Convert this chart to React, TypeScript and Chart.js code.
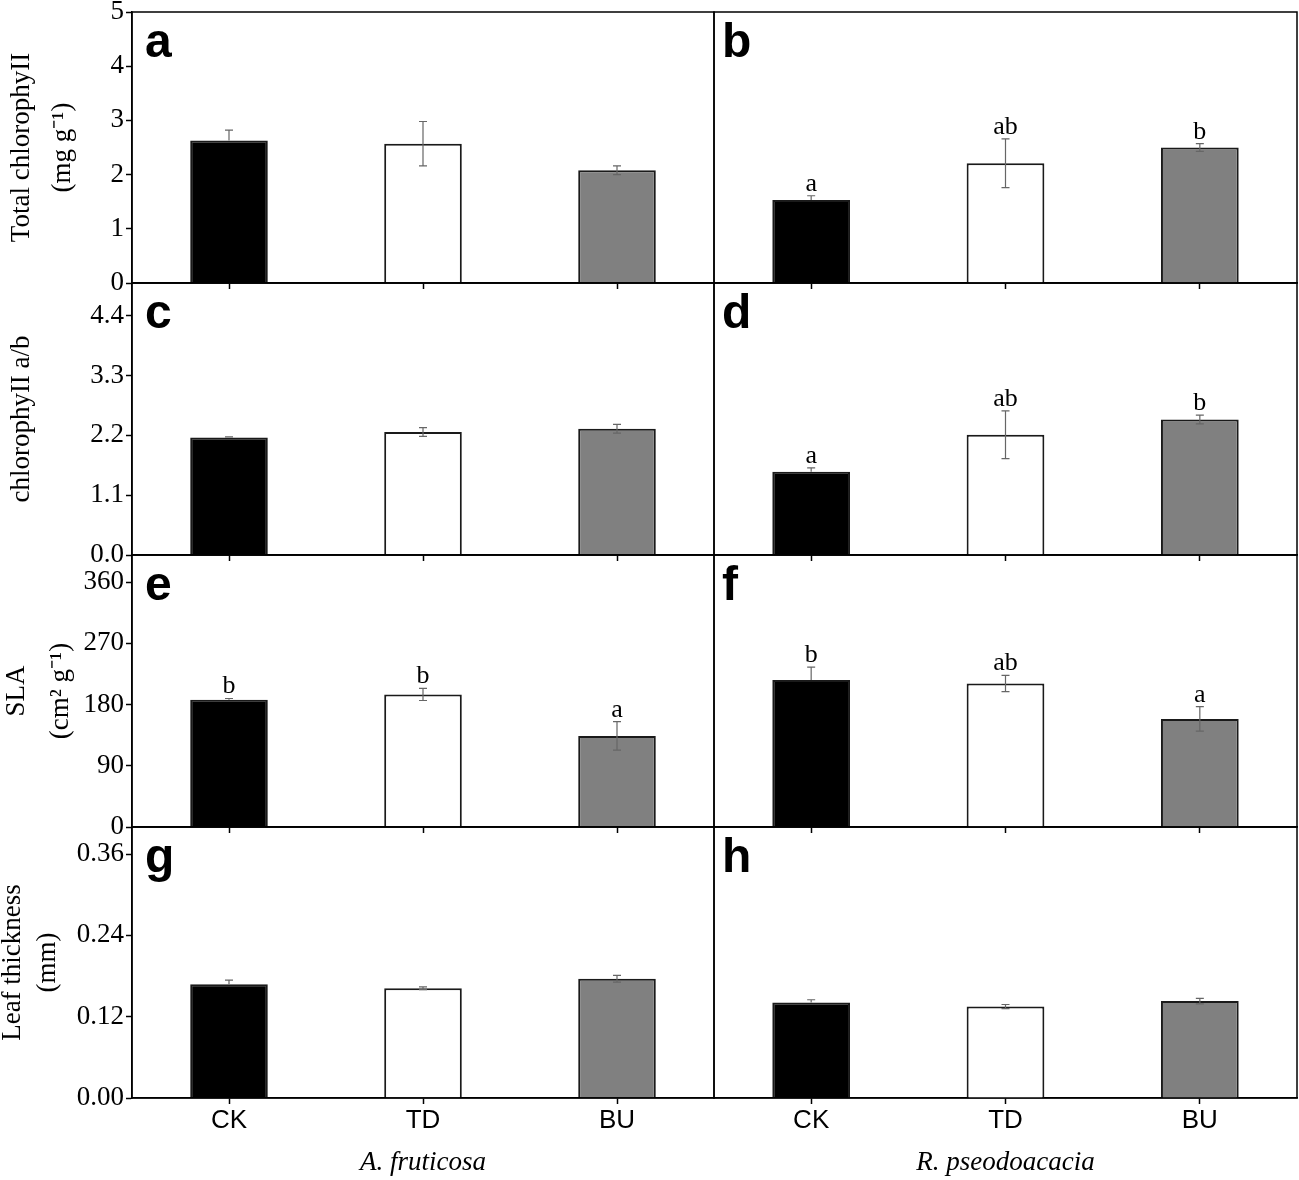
import React, { useEffect, useRef } from "react";
import { Chart, registerables } from "chart.js";

Chart.register(...registerables);

// ---------------- data ----------------
const categories = ["CK", "TD", "BU"];

const totalChlAF = [2.63, 2.57, 2.08];
const totalChlAFErr = [0.19, 0.41, 0.08];
const totalChlRP = [1.53, 2.21, 2.5];
const totalChlRPErr = [0.08, 0.45, 0.07];
const totalChlRPSig = ["a", "ab", "b"];

const chlRatioAF = [2.16, 2.26, 2.32];
const chlRatioAFErr = [0.01, 0.08, 0.08];
const chlRatioRP = [1.53, 2.21, 2.49];
const chlRatioRPErr = [0.07, 0.44, 0.08];
const chlRatioRPSig = ["a", "ab", "b"];

const slaAF = [187, 195, 134];
const slaAFErr = [2, 9, 21];
const slaAFSig = ["b", "b", "a"];
const slaRP = [216, 211, 159];
const slaRPErr = [19, 12, 18];
const slaRPSig = ["b", "ab", "a"];

const thickAF = [0.168, 0.162, 0.176];
const thickAFErr = [0.006, 0.002, 0.005];
const thickRP = [0.141, 0.135, 0.143];
const thickRPErr = [0.004, 0.003, 0.004];

const totalChlTicks = [0, 1, 2, 3, 4, 5];
const chlRatioTicks = [0, 1.1, 2.2, 3.3, 4.4];
const slaTicks = [0, 90, 180, 270, 360];
const thickTicks = [0, 0.12, 0.24, 0.36];

const axisMax = [5, 5, 400, 0.4];
const tickDecimals = [0, 1, 0, 2];

const speciesLabels = ["A. fruticosa", "R. pseodoacacia"];
const yTitles = [
  ["Total chlorophyII", "(mg g\u207B\u00B9)"],
  ["chlorophyII a/b"],
  ["SLA", "(cm\u00B2 g\u207B\u00B9)"],
  ["Leaf thickness", "(mm)"],
];
const panelLetters = [
  ["a", "b"],
  ["c", "d"],
  ["e", "f"],
  ["g", "h"],
];

// ---------------- layout / style ----------------
const ROW_TOP = [12, 283, 555, 827];
const ROW_BOTTOM = [283, 555, 827, 1098];
const COL_LEFT = [132, 714];
const COL_RIGHT = [714, 1297];
const PAGE_W = 1299;
const PAGE_H = 1180;
const BAR_FILL = ["#000000", "#ffffff", "#808080"];
const SERIF = "'Liberation Serif', 'Times New Roman', serif";
const SANS = "'Liberation Sans', Arial, sans-serif";
const Y_TITLE_STYLE = [
  { lh: 1.52, pad: 1 },
  { lh: 1.2, pad: 6 },
  { lh: 1.63, pad: -5 },
  { lh: 1.31, pad: -5 },
];
const LETTER_DX = [13, 8];

type Spec = {
  row: number;
  col: number;
  values: number[];
  errors: number[];
  sig: string[] | null;
  ticks: number[];
};

const specs: Spec[] = [
  { row: 0, col: 0, values: totalChlAF, errors: totalChlAFErr, sig: null, ticks: totalChlTicks },
  { row: 0, col: 1, values: totalChlRP, errors: totalChlRPErr, sig: totalChlRPSig, ticks: totalChlTicks },
  { row: 1, col: 0, values: chlRatioAF, errors: chlRatioAFErr, sig: null, ticks: chlRatioTicks },
  { row: 1, col: 1, values: chlRatioRP, errors: chlRatioRPErr, sig: chlRatioRPSig, ticks: chlRatioTicks },
  { row: 2, col: 0, values: slaAF, errors: slaAFErr, sig: slaAFSig, ticks: slaTicks },
  { row: 2, col: 1, values: slaRP, errors: slaRPErr, sig: slaRPSig, ticks: slaTicks },
  { row: 3, col: 0, values: thickAF, errors: thickAFErr, sig: null, ticks: thickTicks },
  { row: 3, col: 1, values: thickRP, errors: thickRPErr, sig: null, ticks: thickTicks },
];

function Panel({ spec }: { spec: Spec }) {
  const ref = useRef<HTMLCanvasElement>(null);
  const { row, col } = spec;
  const T = ROW_TOP[row];
  const B = ROW_BOTTOM[row];
  const L = COL_LEFT[col];
  const R = COL_RIGHT[col];
  const PAD_TOP = 12;
  const canvasTop = T - PAD_TOP;
  const isBottom = row === 3;
  const xAxisH = isBottom ? PAGE_H - B : 10;
  const canvasH = B - canvasTop + xAxisH;
  const canvasLeft = col === 0 ? 0 : L - 4;
  const canvasRight = col === 0 ? R + 4 : PAGE_W;
  const canvasW = canvasRight - canvasLeft;
  const yAxisW = col === 0 ? L - canvasLeft : 0;
  const padLeft = col === 0 ? 0 : L - canvasLeft;
  const padRight = canvasRight - R;

  useEffect(() => {
    if (!ref.current) return;
    const dec = tickDecimals[row];
    const ts = Y_TITLE_STYLE[row];
    const decor = {
      id: "decor",
      afterDatasetsDraw(chart: any) {
        const ctx = chart.ctx;
        const y = chart.scales.y;
        const meta = chart.getDatasetMeta(0);
        ctx.save();
        ctx.strokeStyle = "#666666";
        ctx.lineWidth = 1.2;
        spec.values.forEach((v, i) => {
          const e = spec.errors[i];
          const x = meta.data[i].x;
          const yt = y.getPixelForValue(v + e);
          const yb = y.getPixelForValue(v - e);
          const dark = BAR_FILL[i] === "#000000";
          const yEnd = dark ? y.getPixelForValue(v) : yb;
          ctx.beginPath();
          ctx.moveTo(x, yt);
          ctx.lineTo(x, yEnd);
          ctx.moveTo(x - 4, yt);
          ctx.lineTo(x + 4, yt);
          if (!dark) {
            ctx.moveTo(x - 4, yb);
            ctx.lineTo(x + 4, yb);
          }
          ctx.stroke();
        });
        if (spec.sig) {
          ctx.fillStyle = "#000";
          ctx.font = `26px ${SERIF}`;
          ctx.textAlign = "center";
          ctx.textBaseline = "alphabetic";
          spec.sig.forEach((s, i) => {
            const x = meta.data[i].x;
            const yt = y.getPixelForValue(spec.values[i] + spec.errors[i]);
            ctx.fillText(s, x, yt - 5);
          });
        }
        ctx.restore();
      },
      afterDraw(chart: any) {
        const ctx = chart.ctx;
        const a = chart.chartArea;
        ctx.save();
        ctx.strokeStyle = "#000";
        ctx.lineWidth = 1.5;
        ctx.strokeRect(a.left, a.top, a.right - a.left, a.bottom - a.top);
        ctx.fillStyle = "#000";
        ctx.font = `bold 48px ${SANS}`;
        ctx.textAlign = "left";
        ctx.textBaseline = "alphabetic";
        ctx.fillText(panelLetters[row][col], a.left + LETTER_DX[col], a.top + 45);
        ctx.restore();
      },
    };

    const chart = new Chart(ref.current, {
      type: "bar",
      data: {
        labels: categories,
        datasets: [
          {
            data: spec.values,
            backgroundColor: BAR_FILL,
            borderColor: "#1a1a1a",
            borderWidth: 2,
            barPercentage: 1,
            categoryPercentage: 0.4,
          },
        ],
      },
      options: {
        responsive: false,
        maintainAspectRatio: false,
        animation: false,
        devicePixelRatio: 1,
        layout: {
          autoPadding: false,
          padding: { left: padLeft, right: padRight, top: PAD_TOP, bottom: 0 },
        },
        plugins: {
          legend: { display: false },
          tooltip: { enabled: false },
        },
        scales: {
          x: {
            type: "category",
            offset: true,
            grid: {
              display: true,
              drawOnChartArea: false,
              offset: false,
              drawTicks: true,
              tickLength: 6,
              tickColor: "#000",
              tickWidth: 1.5,
            },
            border: { display: true, color: "#000", width: 1.5 },
            ticks: {
              display: isBottom,
              color: "#000",
              padding: 1,
              font: { family: SANS, size: 26 },
            },
            title: {
              display: isBottom,
              text: speciesLabels[col],
              color: "#000",
              font: { family: SERIF, size: 27, style: "italic" },
              padding: { top: 0, bottom: 1 },
            },
            afterFit: (axis: any) => {
              axis.height = xAxisH;
              axis.paddingLeft = 0;
              axis.paddingRight = 0;
              axis.paddingTop = 0;
              axis.paddingBottom = 0;
            },
          },
          y: {
            type: "linear",
            display: col === 0,
            min: 0,
            max: axisMax[row],
            afterBuildTicks: (axis: any) => {
              axis.ticks = spec.ticks.map((v) => ({ value: v }));
            },
            grid: {
              display: true,
              drawOnChartArea: false,
              drawTicks: true,
              tickLength: 6,
              tickColor: "#000",
              tickWidth: 1.5,
            },
            border: { display: true, color: "#000", width: 1.5 },
            ticks: {
              color: "#000",
              padding: 2,
              font: { family: SERIF, size: 27 },
              callback: (v: any) => Number(v).toFixed(dec),
            },
            title: {
              display: col === 0,
              text: yTitles[row],
              color: "#000",
              font: { family: SERIF, size: 27, lineHeight: ts.lh },
              padding: { top: ts.pad, bottom: 0 },
            },
            afterFit: (axis: any) => {
              axis.width = yAxisW;
              axis.paddingLeft = 0;
              axis.paddingRight = 0;
              axis.paddingTop = 0;
              axis.paddingBottom = 0;
            },
          },
        },
      } as any,
      plugins: [decor as any],
    });
    return () => chart.destroy();
  }, []);

  return (
    <canvas
      ref={ref}
      width={canvasW}
      height={canvasH}
      style={{
        position: "absolute",
        left: canvasLeft,
        top: canvasTop,
        width: canvasW,
        height: canvasH,
      }}
    />
  );
}

export default function App() {
  return (
    <div
      style={{
        position: "fixed",
        left: 0,
        top: 0,
        width: PAGE_W,
        height: PAGE_H,
        background: "#ffffff",
        overflow: "hidden",
      }}
    >
      {specs.map((s, i) => (
        <Panel key={i} spec={s} />
      ))}
    </div>
  );
}
